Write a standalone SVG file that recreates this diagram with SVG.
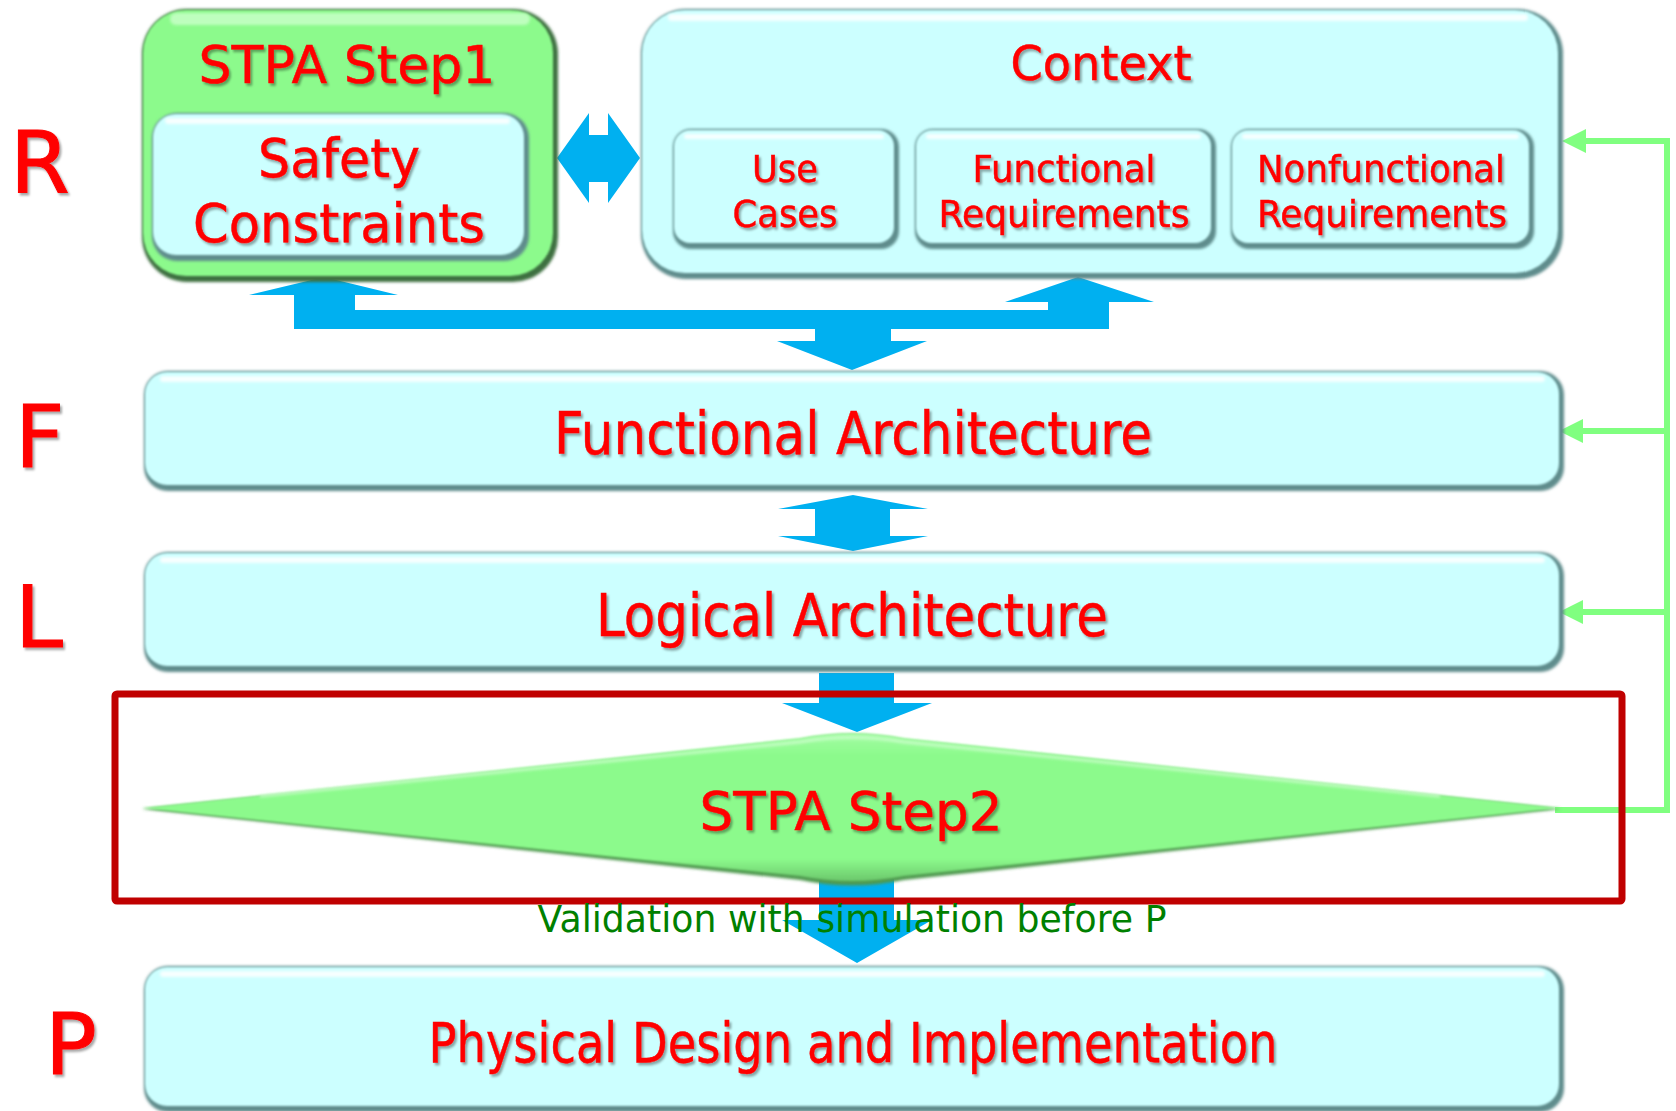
<svg xmlns="http://www.w3.org/2000/svg" width="1676" height="1111" viewBox="0 0 1676 1111">
  <defs>
    <style>
      .blue { fill: #00B0F0; }
      .rimC { fill: #5E8C8C; filter: url(#soft); }
      .faceC { fill: #CCFFFF; filter: url(#edge); }
      .rimG { fill: #3E7040; filter: url(#soft); }
      .faceG { fill: #8CFA8C; filter: url(#edge); }
      .hl { fill: #FFFFFF; opacity: 0.85; filter: url(#glow); }
      .hlG { fill: #C4FFC4; opacity: 0.9; filter: url(#glow); }
      .fb { fill: none; stroke: #80FF80; stroke-width: 6; }
      .lbl { font-family: "DejaVu Sans", "Liberation Sans", sans-serif; fill: #FF0000; stroke: #FF0000; stroke-width: 0.5; text-anchor: middle; filter: url(#tshadow); }
      .lvl { font-family: "DejaVu Sans", "Liberation Sans", sans-serif; fill: #FF0000; stroke: #FF0000; stroke-width: 1; font-size: 86px; filter: url(#tshadow); }
      .note { font-family: "DejaVu Sans", "Liberation Sans", sans-serif; fill: #008000; font-size: 37px; text-anchor: middle; }
    </style>
    <filter id="soft" x="-5%" y="-5%" width="110%" height="110%">
      <feGaussianBlur stdDeviation="1.4"/>
    </filter>
    <filter id="edge" x="-5%" y="-5%" width="110%" height="110%">
      <feGaussianBlur stdDeviation="1.1"/>
    </filter>
    <filter id="glow" x="-10%" y="-100%" width="120%" height="300%">
      <feGaussianBlur stdDeviation="1.8"/>
    </filter>
    <filter id="tshadow" x="-5%" y="-10%" width="115%" height="130%">
      <feDropShadow dx="2" dy="2.5" stdDeviation="1.2" flood-color="#000000" flood-opacity="0.35"/>
    </filter>
    <linearGradient id="diamondGrad" x1="0" y1="0" x2="0" y2="1">
      <stop offset="0" stop-color="#A4FDA4"/>
      <stop offset="0.15" stop-color="#8CFA8C"/>
      <stop offset="0.85" stop-color="#8CFA8C"/>
      <stop offset="1" stop-color="#6CC86C"/>
    </linearGradient>
    <marker id="gHead" markerUnits="userSpaceOnUse" markerWidth="26" markerHeight="26" refX="0" refY="12" orient="auto">
      <path d="M0,0 L24,12 L0,24 Z" fill="#80FF80"/>
    </marker>
  </defs>

  <rect width="1676" height="1111" fill="#FFFFFF"/>

  <!-- connectors -->
  <g id="connectors">
    <!-- Step1 <-> Context -->
    <polygon class="blue" points="557,158 589,113 589,135 608,135 608,113 640,158 608,203 608,182 589,182 589,203"/>
    <!-- bus from Step1 / Context down to Functional Architecture -->
    <polygon class="blue" points="324,277 398,295 355,295 355,310 1048,310 1048,302 1005,302 1078,277 1154,302 1109,302 1109,329 891,329 891,341 927,341 852,370 777,341 815,341 815,329 294,329 294,295 249,295"/>
    <!-- Functional <-> Logical -->
    <polygon class="blue" points="853,495 928,509 890,509 890,536 928,536 853,551 778,536 815,536 815,509 778,509"/>
    <!-- Logical -> Step2 -->
    <polygon class="blue" points="819,673 894,673 894,703 932,703 857,732 782,703 819,703"/>
    <!-- Step2 -> Physical -->
    <polygon class="blue" points="819,860 894,860 894,920 932,920 857,963 782,920 819,920"/>
    <!-- Step2 feedback -->
    <path class="fb" d="M1555,810 H1667 V141 H1586" marker-end="url(#gHead)"/>
    <path class="fb" d="M1664,431 H1583" marker-end="url(#gHead)"/>
    <path class="fb" d="M1664,612 H1583" marker-end="url(#gHead)"/>
  </g>

  <!-- level letters -->
  <g id="levels">
    <text class="lvl" x="10" y="192">R</text>
    <text class="lvl" x="15" y="467">F</text>
    <text class="lvl" x="15" y="647">L</text>
    <text class="lvl" x="45" y="1074">P</text>
  </g>

  <!-- STPA Step1 -->
  <g id="stpa-step1">
    <rect class="rimG" x="142" y="9" width="416" height="273" rx="45"/>
    <rect class="faceG" x="143" y="10" width="410" height="266" rx="43"/>
    <rect class="hlG" x="170" y="13" width="360" height="12" rx="6"/>
    <text class="lbl" x="347" y="83" font-size="52" textLength="297" lengthAdjust="spacingAndGlyphs">STPA Step1</text>
  </g>
  <g id="safety-constraints">
    <rect class="rimC" x="152" y="113" width="377" height="148" rx="25"/>
    <rect class="faceC" x="153" y="114" width="371" height="141" rx="23"/>
    <rect class="hl" x="165" y="118" width="345" height="6" rx="3"/>
    <text class="lbl" x="339" y="177" font-size="53" textLength="162" lengthAdjust="spacingAndGlyphs">Safety</text>
    <text class="lbl" x="339" y="242" font-size="53" textLength="292" lengthAdjust="spacingAndGlyphs">Constraints</text>
  </g>

  <!-- Context -->
  <g id="context">
    <rect class="rimC" x="641" y="9" width="922" height="270" rx="45"/>
    <rect class="faceC" x="642" y="10" width="916" height="263" rx="43"/>
    <rect class="hl" x="668" y="14" width="860" height="7" rx="3.5"/>
    <text class="lbl" x="1101" y="80" font-size="48" textLength="181" lengthAdjust="spacingAndGlyphs">Context</text>
  </g>
  <g id="use-cases">
    <rect class="rimC" x="673" y="129" width="226" height="120" rx="18"/>
    <rect class="faceC" x="674" y="130" width="220" height="113" rx="16"/>
    <rect class="hl" x="684" y="134" width="200" height="5" rx="2.5"/>
    <text class="lbl" x="785" y="182" font-size="38" textLength="66" lengthAdjust="spacingAndGlyphs">Use</text>
    <text class="lbl" x="785" y="227" font-size="38" textLength="105" lengthAdjust="spacingAndGlyphs">Cases</text>
  </g>
  <g id="functional-requirements">
    <rect class="rimC" x="915" y="129" width="301" height="120" rx="18"/>
    <rect class="faceC" x="916" y="130" width="295" height="113" rx="16"/>
    <rect class="hl" x="926" y="134" width="275" height="5" rx="2.5"/>
    <text class="lbl" x="1064" y="182" font-size="38" textLength="183" lengthAdjust="spacingAndGlyphs">Functional</text>
    <text class="lbl" x="1064" y="227" font-size="38" textLength="251" lengthAdjust="spacingAndGlyphs">Requirements</text>
  </g>
  <g id="nonfunctional-requirements">
    <rect class="rimC" x="1231" y="129" width="303" height="120" rx="18"/>
    <rect class="faceC" x="1232" y="130" width="297" height="113" rx="16"/>
    <rect class="hl" x="1242" y="134" width="277" height="5" rx="2.5"/>
    <text class="lbl" x="1381" y="182" font-size="38" textLength="248" lengthAdjust="spacingAndGlyphs">Nonfunctional</text>
    <text class="lbl" x="1382" y="227" font-size="38" textLength="250" lengthAdjust="spacingAndGlyphs">Requirements</text>
  </g>

  <!-- Functional Architecture -->
  <g id="functional-architecture">
    <rect class="rimC" x="144" y="371" width="1420" height="120" rx="24"/>
    <rect class="faceC" x="145" y="372" width="1414" height="113" rx="22"/>
    <rect class="hl" x="160" y="376" width="1385" height="6" rx="3"/>
    <text class="lbl" x="853" y="454" font-size="58" textLength="598" lengthAdjust="spacingAndGlyphs">Functional Architecture</text>
  </g>

  <!-- Logical Architecture -->
  <g id="logical-architecture">
    <rect class="rimC" x="144" y="552" width="1420" height="120" rx="24"/>
    <rect class="faceC" x="145" y="553" width="1414" height="113" rx="22"/>
    <rect class="hl" x="160" y="557" width="1385" height="6" rx="3"/>
    <text class="lbl" x="852" y="636" font-size="58" textLength="512" lengthAdjust="spacingAndGlyphs">Logical Architecture</text>
  </g>

  <!-- STPA Step2 -->
  <g id="stpa-step2">
    <path d="M142,809 L800,740 Q852,729 904,740 L1561,809 L904,880 Q852,891 800,880 Z" fill="#4F9A4F" filter="url(#soft)"/>
    <path d="M142,808 L800,738 Q852,728 904,738 L1561,808 L904,876 Q852,886 800,876 Z" fill="url(#diamondGrad)" filter="url(#edge)"/>
    <path d="M260,796 L800,742 Q852,733 904,742 L1440,796" fill="none" stroke="#D8FFD8" stroke-width="3" opacity="0.7" filter="url(#glow)"/>
    <text class="lbl" x="851" y="830" font-size="53" textLength="303" lengthAdjust="spacingAndGlyphs">STPA Step2</text>
  </g>

  <!-- Physical Design and Implementation -->
  <g id="physical-design">
    <rect class="rimC" x="144" y="966" width="1420" height="146" rx="24"/>
    <rect class="faceC" x="145" y="967" width="1414" height="139" rx="22"/>
    <rect class="hl" x="160" y="971" width="1385" height="6" rx="3"/>
    <text class="lbl" x="853" y="1062" font-size="56" textLength="849" lengthAdjust="spacingAndGlyphs">Physical Design and Implementation</text>
  </g>

  <!-- Step2 focus frame -->
  <rect id="step2-frame" x="115" y="694" width="1507" height="207" rx="2" fill="none" stroke="#C00000" stroke-width="7"/>

  <text class="note" x="852" y="932" textLength="629" lengthAdjust="spacingAndGlyphs">Validation with simulation before P</text>
</svg>
